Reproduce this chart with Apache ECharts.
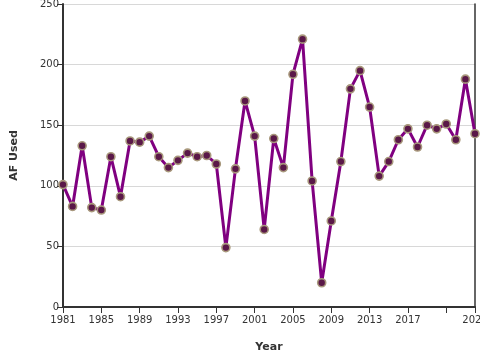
<!DOCTYPE html>
<html><head><meta charset="utf-8">
<script src="https://cdn.jsdelivr.net/npm/echarts@6/dist/echarts.min.js"></script>
<style>html,body{margin:0;padding:0;background:#fff}#c{width:480px;height:360px}</style>
</head><body><div id="c"></div>
<script>
const years = [1981,1982,1983,1984,1985,1986,1987,1988,1989,1990,1991,1992,1993,1994,1995,1996,1997,1998,1999,2000,2001,2002,2003,2004,2005,2006,2007,2008,2009,2010,2011,2012,2013,2014,2015,2016,2017,2018,2019,2020,2021,2022,2023,2024];
const afUsed = [101,83,133,82,80,124,91,137,136,141,124,115,121,127,124,125,118,49,114,170,141,64,139,115,192,221,104,20,71,120,180,195,165,108,120,138,147,132,150,147,151,138,188,143];
const xTickHidden = [2021];

const chart = echarts.init(document.getElementById('c'), null, {renderer:'canvas'});
const font = 'DejaVu Sans';
chart.setOption({
  animation:false,
  grid:{left:63,right:5,top:4,bottom:53,containLabel:false,outerBoundsMode:'none'},
  xAxis:{
    type:'value', min:1981, max:2024, interval:4,
    name:'Year', nameLocation:'middle', nameGap:35,
    nameTextStyle:{fontFamily:font,fontSize:11,fontWeight:'bold',color:'#333'},
    axisLine:{lineStyle:{color:'#333',width:2}},
    axisTick:{show:true,length:6,lineStyle:{color:'#333',width:1}},
    axisLabel:{fontFamily:font,fontSize:10,color:'#333',margin:8,showMaxLabel:true,showMinLabel:true,hideOverlap:false,
      formatter:v=>xTickHidden.includes(v)?'':String(v)},
    splitLine:{show:false}
  },
  yAxis:[{
    type:'value', min:0, max:250, interval:50,
    name:'AF Used', nameLocation:'middle', nameGap:43,
    nameTextStyle:{fontFamily:font,fontSize:11,fontWeight:'bold',color:'#333'},
    axisLine:{show:true,lineStyle:{color:'#333',width:2}},
    axisTick:{show:true,length:6,lineStyle:{color:'#333',width:1}},
    axisLabel:{fontFamily:font,fontSize:10,color:'#333',margin:4},
    splitLine:{show:true,lineStyle:{color:'#d8d8d8',width:1}}
  },{
    type:'value', min:0, max:250, position:'right',
    axisLine:{show:true,lineStyle:{color:'#333',width:1.5}},
    axisTick:{show:false}, axisLabel:{show:false}, splitLine:{show:false}
  }],
  series:[{
    type:'line',
    data:years.map((y,i)=>[y,afUsed[i]]),
    lineStyle:{color:'#800080',width:3},
    symbol:'circle', symbolSize:8,
    itemStyle:{color:'#5a1848',borderColor:'#a8987c',borderWidth:1.6},
    z:3
  }]
});
</script></body></html>
